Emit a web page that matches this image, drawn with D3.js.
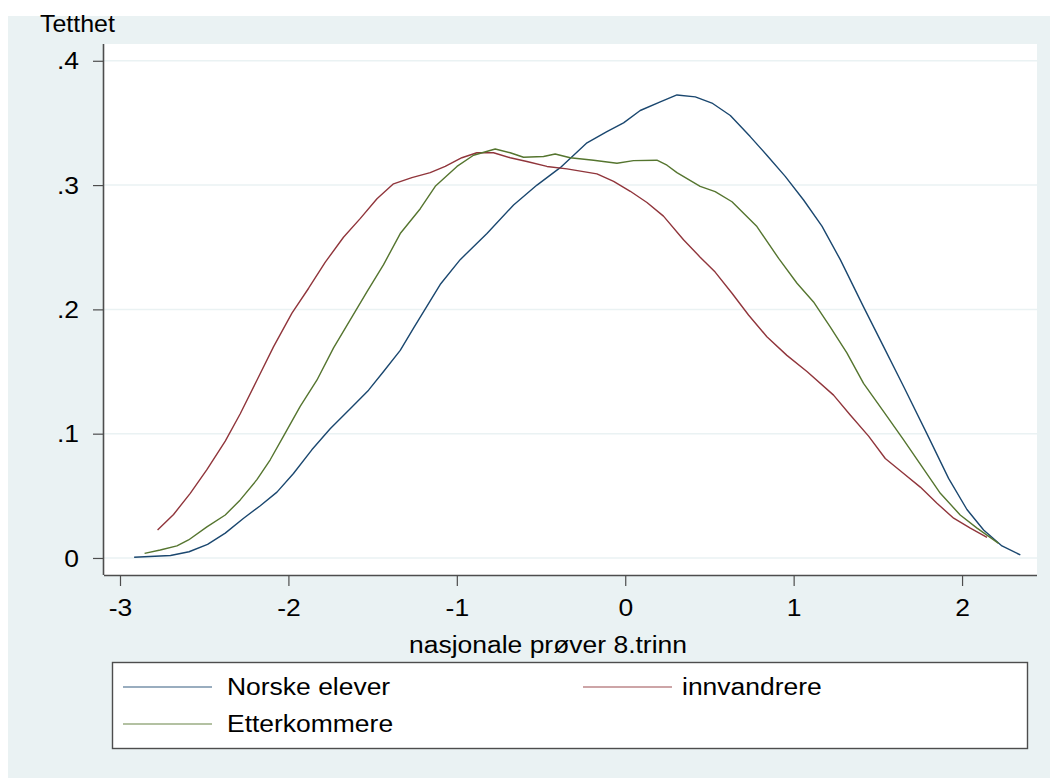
<!DOCTYPE html>
<html>
<head>
<meta charset="utf-8">
<script src="https://cdn.jsdelivr.net/npm/d3@7"></script>
<style>
  html, body { margin: 0; padding: 0; background: #ffffff; }
  svg { display: block; }
  text { font-family: "Liberation Sans", Arial, sans-serif; fill: #000; }
</style>
</head>
<body>
<svg id="chart" width="1050" height="778"></svg>
<script>
// ---------- data ----------
const seriesNames = ["Norske elever", "innvandrere", "Etterkommere"];
const seriesColors = ["#1a476f", "#90353b", "#55752f"];

const norskeX = [-2.916,-2.70,-2.59,-2.48,-2.375,-2.266,-2.167,-2.068,-1.970,-1.861,-1.752,-1.633,-1.524,-1.435,-1.336,-1.257,-1.099,-0.980,-0.821,-0.663,-0.524,-0.386,-0.227,-0.109,-0.010,0.089,0.208,0.307,0.416,0.515,0.624,0.742,0.841,0.950,1.059,1.168,1.277,1.415,1.534,1.653,1.791,1.920,2.029,2.128,2.237,2.346];
const norskeY = [0.0006,0.002,0.005,0.011,0.020,0.032,0.042,0.053,0.068,0.087,0.104,0.120,0.135,0.150,0.167,0.185,0.220,0.240,0.261,0.284,0.300,0.314,0.334,0.343,0.350,0.360,0.367,0.3725,0.371,0.366,0.356,0.339,0.324,0.307,0.288,0.267,0.240,0.202,0.170,0.138,0.100,0.064,0.039,0.0225,0.0097,0.0024];

const innvX = [-2.777,-2.682,-2.583,-2.484,-2.375,-2.286,-2.187,-2.088,-1.979,-1.880,-1.781,-1.673,-1.574,-1.474,-1.376,-1.267,-1.158,-1.069,-0.970,-0.881,-0.782,-0.683,-0.584,-0.465,-0.346,-0.168,-0.069,0.030,0.129,0.227,0.346,0.445,0.534,0.634,0.732,0.841,0.960,1.079,1.237,1.336,1.445,1.544,1.653,1.752,1.851,1.950,2.049,2.148];
const innvY = [0.0225,0.035,0.052,0.071,0.094,0.116,0.143,0.170,0.197,0.217,0.238,0.258,0.273,0.289,0.301,0.306,0.310,0.315,0.322,0.326,0.326,0.322,0.319,0.315,0.313,0.309,0.303,0.295,0.286,0.275,0.256,0.242,0.230,0.213,0.1955,0.178,0.163,0.150,0.131,0.115,0.098,0.080,0.068,0.057,0.044,0.032,0.024,0.0166];

const etterX = [-2.854,-2.761,-2.662,-2.593,-2.484,-2.375,-2.286,-2.187,-2.108,-2.029,-1.930,-1.831,-1.732,-1.633,-1.534,-1.435,-1.336,-1.217,-1.128,-0.999,-0.901,-0.772,-0.683,-0.604,-0.485,-0.416,-0.327,-0.188,-0.049,0.049,0.188,0.248,0.307,0.445,0.534,0.634,0.782,0.911,1.020,1.118,1.217,1.316,1.415,1.544,1.653,1.762,1.871,1.989,2.089,2.217];
const etterY = [0.0037,0.0064,0.0097,0.0145,0.025,0.0346,0.0467,0.063,0.079,0.098,0.122,0.143,0.169,0.1915,0.214,0.236,0.261,0.281,0.299,0.315,0.324,0.329,0.326,0.3224,0.323,0.325,0.322,0.320,0.3176,0.3197,0.320,0.316,0.310,0.299,0.2947,0.2866,0.2666,0.241,0.221,0.206,0.186,0.165,0.1405,0.116,0.095,0.0735,0.052,0.0346,0.024,0.0118];

const xTicks = [-3, -2, -1, 0, 1, 2];
const xTickLabels = ["-3", "-2", "-1", "0", "1", "2"];
const yTicks = [0, 0.1, 0.2, 0.3, 0.4];
const yTickLabels = ["0", ".1", ".2", ".3", ".4"];
const yTitle = "Tetthet";
const xTitle = "nasjonale prøver 8.trinn";

// ---------- layout ----------
const W = 1050, H = 778;
const plot = { left: 104, right: 1037, top: 44, bottom: 575 };
const bgColor = "#eaf2f3";
const axisColor = "#4d4d4d";
const gridColor = "#eaf2f3";
const fontSize = 23;
const stretchK = 1.15;

const svg = d3.select("#chart");

// graph region background
svg.append("rect").attr("x", 8).attr("y", 16).attr("width", W - 8).attr("height", H - 16)
  .attr("fill", bgColor);
// plot region
svg.append("rect").attr("x", plot.left).attr("y", plot.top)
  .attr("width", plot.right - plot.left).attr("height", plot.bottom - plot.top)
  .attr("fill", "#ffffff");

const x = d3.scaleLinear().domain([-3.095, 2.445]).range([plot.left, plot.right]);
const y = d3.scaleLinear().domain([-0.0137, 0.4135]).range([plot.bottom, plot.top]);

function stretch(sel, k) {
  sel.each(function () {
    const len = this.getComputedTextLength();
    d3.select(this).attr("textLength", len * k).attr("lengthAdjust", "spacingAndGlyphs");
  });
}

// gridlines
svg.append("g").selectAll("line").data(yTicks).join("line")
  .attr("x1", plot.left).attr("x2", plot.right)
  .attr("y1", d => y(d)).attr("y2", d => y(d))
  .attr("stroke", gridColor).attr("stroke-width", 1.5);

// y axis
const yAxis = d3.axisLeft(y).tickValues(yTicks)
  .tickFormat((d, i) => yTickLabels[i]).tickSize(11).tickPadding(14);
const gy = svg.append("g").attr("transform", `translate(${plot.left},0)`).call(yAxis);
gy.select(".domain").attr("d", `M-0.5,${plot.top}V${plot.bottom}`)
  .attr("stroke", axisColor).attr("stroke-width", 1.6);
gy.selectAll(".tick line").attr("stroke", axisColor).attr("stroke-width", 1.2);
gy.selectAll(".tick text").attr("font-size", fontSize).attr("font-family", "Liberation Sans, Arial, sans-serif")
  .attr("fill", "#000").attr("dy", "0.35em");
stretch(gy.selectAll(".tick text"), stretchK);

// x axis
const xAxis = d3.axisBottom(x).tickValues(xTicks)
  .tickFormat((d, i) => xTickLabels[i]).tickSize(11).tickPadding(14);
const gx = svg.append("g").attr("transform", `translate(0,${plot.bottom})`).call(xAxis);
gx.select(".domain").attr("d", `M${plot.left},0.5H${plot.right}`)
  .attr("stroke", axisColor).attr("stroke-width", 1.6);
gx.selectAll(".tick line").attr("stroke", axisColor).attr("stroke-width", 1.2);
gx.selectAll(".tick text").attr("font-size", fontSize).attr("font-family", "Liberation Sans, Arial, sans-serif")
  .attr("fill", "#000");
stretch(gx.selectAll(".tick text"), stretchK);

// curves
const series = [
  { name: seriesNames[0], xs: norskeX, ys: norskeY, color: seriesColors[0] },
  { name: seriesNames[1], xs: innvX, ys: innvY, color: seriesColors[1] },
  { name: seriesNames[2], xs: etterX, ys: etterY, color: seriesColors[2] }
];
const line = d3.line().x(d => x(d[0])).y(d => y(d[1]));
svg.append("g").selectAll("path").data(series).join("path")
  .attr("d", s => line(s.xs.map((v, i) => [v, s.ys[i]])))
  .attr("fill", "none").attr("stroke", s => s.color).attr("stroke-width", 1.4)
  .attr("stroke-linejoin", "round");

// titles
const yt = svg.append("text").attr("x", 40).attr("y", 32).attr("font-size", 24).text(yTitle);
stretch(yt, 1.04);
const xt = svg.append("text").attr("x", 548).attr("y", 653).attr("text-anchor", "middle")
  .attr("font-size", fontSize).text(xTitle);
stretch(xt, stretchK);

// legend
const lg = svg.append("g");
lg.append("rect").attr("x", 112.5).attr("y", 662.5).attr("width", 915).attr("height", 86)
  .attr("fill", "#ffffff").attr("stroke", axisColor).attr("stroke-width", 1.4);
const legendPos = [
  { lx: 123, ly: 687, tx: 227 },
  { lx: 583, ly: 687, tx: 682 },
  { lx: 123, ly: 724, tx: 227 }
];
series.forEach((s, i) => {
  const p = legendPos[i];
  lg.append("line").attr("x1", p.lx).attr("x2", p.lx + 89).attr("y1", p.ly).attr("y2", p.ly)
    .attr("stroke", s.color).attr("stroke-width", 1.4).attr("stroke-opacity", 0.6);
  const t = lg.append("text").attr("x", p.tx).attr("y", p.ly + 8).attr("font-size", fontSize).text(s.name);
  stretch(t, stretchK);
});
</script>
</body>
</html>
